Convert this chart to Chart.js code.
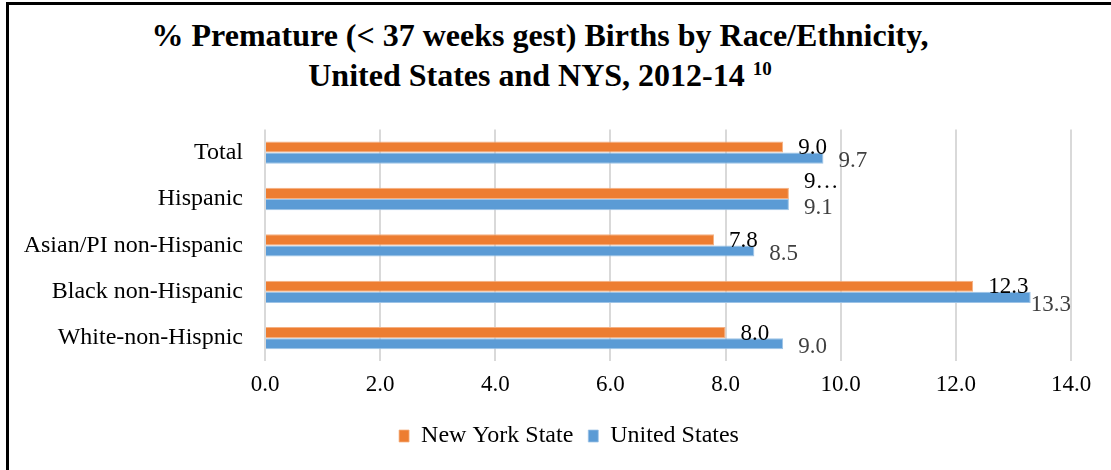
<!DOCTYPE html>
<html>
<head>
<meta charset="utf-8">
<script src="https://cdn.jsdelivr.net/npm/chart.js@4.4.1/dist/chart.umd.min.js"></script>
<style>
  html, body { margin: 0; padding: 0; background: #fff; }
  body { width: 1111px; height: 470px; position: relative; overflow: hidden; }
  .frame { position: absolute; left: 6px; top: 2px; width: 1200px; height: 600px;
           border-left: 3px solid #000; border-top: 3px solid #000; }
  .title { position: absolute; left: 0; top: 15px; width: 1080px; text-align: center;
           font-family: "Liberation Serif"; font-weight: bold;
           font-size: 32px; line-height: 40px; color: #000; }
  .title sup { font-size: 19px; vertical-align: 0; position: relative; top: -11px; }
  #chart { position: absolute; left: 8px; top: 93px; }
</style>
</head>
<body>
<div class="frame"></div>
<div class="title">% Premature (&lt; 37 weeks gest) Births by Race/Ethnicity,<br>United States and NYS, 2012-14 <sup>10</sup></div>
<canvas id="chart" width="1122" height="375"></canvas>
<script>
const categories = ['Total', 'Hispanic', 'Asian/PI non-Hispanic', 'Black non-Hispanic', 'White-non-Hispnic'];
const nysValues = [9.0, 9.1, 7.8, 12.3, 8.0];
const usValues = [9.7, 9.1, 8.5, 13.3, 9.0];
const nysLabels = ['9.0', '9\u2026', '7.8', '12.3', '8.0'];
const usLabels = ['9.7', '9.1', '8.5', '13.3', '9.0'];
const xTicks = [0, 2, 4, 6, 8, 10, 12, 14];

const serif = '"Liberation Serif", serif';

// value labels drawn just past the end of each bar, like the Excel original
const barLabels = {
  id: 'barLabels',
  afterDatasetsDraw(chart) {
    const { ctx, chartArea } = chart;
    const sets = [
      { labels: nysLabels, color: '#000000', dy: 1 },
      { labels: usLabels, color: '#404040', dy: 3 }
    ];
    ctx.save();
    ctx.font = '23px ' + serif;
    ctx.textAlign = 'left';
    ctx.textBaseline = 'middle';
    sets.forEach((s, di) => {
      const meta = chart.getDatasetMeta(di);
      meta.data.forEach((bar, i) => {
        const txt = s.labels[i];
        const w = ctx.measureText(txt).width;
        let x = bar.x + 15;
        let y = bar.y + s.dy;
        // keep labels inside the plot area
        if (x + w > chartArea.right) { x = chartArea.right - w; y += 5; }
        // truncated label got pushed above the bar in the original
        if (txt.indexOf('\u2026') >= 0) y = bar.y - 11;
        ctx.fillStyle = s.color;
        ctx.fillText(txt, x, y);
      });
    });
    ctx.restore();
  }
};

// center the legend on the whole canvas rather than the padded box
const centerLegend = {
  id: 'centerLegend',
  afterLayout(chart) {
    const lg = chart.legend;
    if (!lg) return;
    const shift = chart.width / 2 - (lg.left + lg.right) / 2;
    lg.left += shift;
    lg.right += shift;
  }
};

new Chart(document.getElementById('chart'), {
  type: 'bar',
  data: {
    labels: categories,
    datasets: [
      {
        label: 'New York State',
        data: nysValues,
        backgroundColor: '#ED7D31',
        borderColor: '#F4B183',
        borderWidth: { top: 1, bottom: 1, right: 1, left: 0 },
        categoryPercentage: 0.48,
        barPercentage: 1.0
      },
      {
        label: 'United States',
        data: usValues,
        backgroundColor: '#5B9BD5',
        borderColor: '#9DC3E6',
        borderWidth: { top: 1, bottom: 1, right: 1, left: 0 },
        categoryPercentage: 0.48,
        barPercentage: 1.0
      }
    ]
  },
  options: {
    indexAxis: 'y',
    responsive: false,
    animation: false,
    layout: { padding: { left: 0, right: 59, top: 16, bottom: 10 } },
    scales: {
      x: {
        min: 0,
        max: 14,
        afterBuildTicks(axis) {
          axis.ticks = xTicks.map(v => ({ value: v }));
        },
        grid: { color: '#D9D9D9', lineWidth: 2, drawTicks: false },
        border: { display: false },
        ticks: {
          padding: 10,
          color: '#000',
          font: { family: serif, size: 23 },
          callback: v => Number(v).toFixed(1)
        }
      },
      y: {
        afterFit(axis) { axis.width = 257; },
        grid: { display: false, drawTicks: false },
        border: { display: false },
        ticks: {
          padding: 22,
          color: '#000',
          font: { family: serif, size: 24 }
        }
      }
    },
    plugins: {
      legend: {
        position: 'bottom',
        labels: {
          boxWidth: 10,
          boxHeight: 12,
          padding: 15,
          color: '#000',
          font: { family: serif, size: 24 }
        }
      },
      tooltip: { enabled: false }
    }
  },
  plugins: [barLabels, centerLegend]
});
</script>
</body>
</html>
